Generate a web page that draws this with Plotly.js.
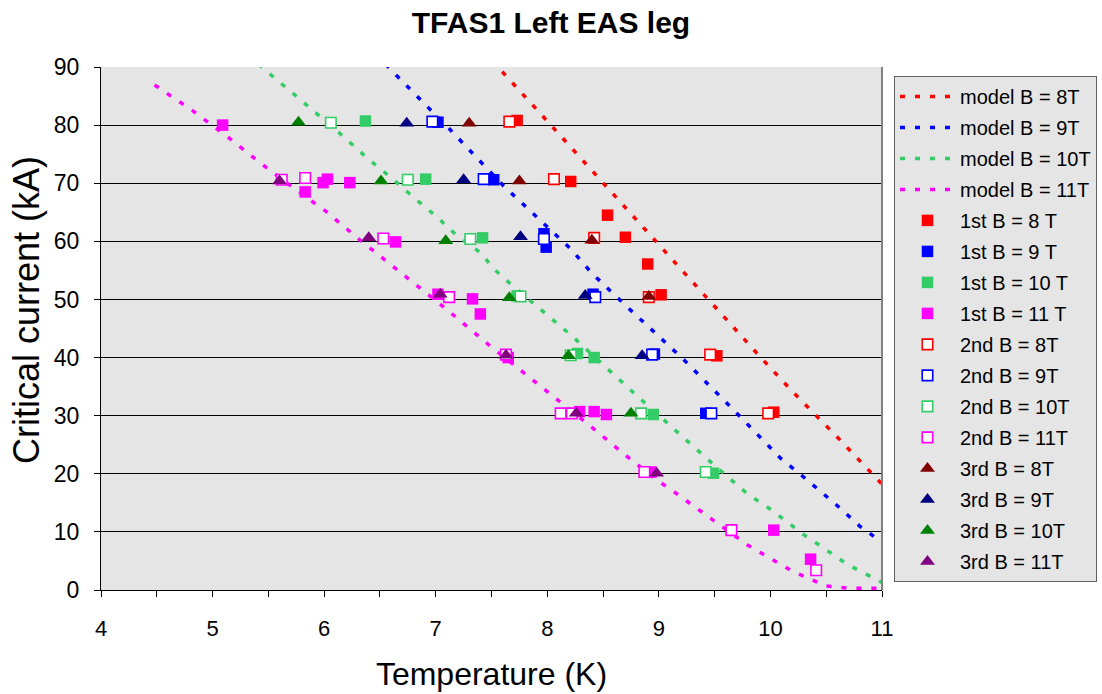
<!DOCTYPE html>
<html>
<head>
<meta charset="utf-8">
<script src="https://cdn.plot.ly/plotly-3.0.1.min.js"></script>
<style>html,body{margin:0;padding:0;background:#fff;}#chart{width:1102px;height:694px;}</style>
</head>
<body>
<div id="chart"></div>
<script>
// ---- model curves ----
const model8T_T = [7.5, 7.6, 7.9, 8.2, 8.5, 8.81, 9.1, 9.6, 9.9, 10.2, 10.6, 11.0];
const model8T_I = [91, 89.1, 82.8, 76.4, 70, 63.6, 57.2, 46.6, 40.3, 34.1, 26.3, 18.2];
const model9T_T = [6.55, 6.62, 7.12, 7.60, 8.21, 8.40, 8.70, 9.22, 9.71, 10.09, 10.30, 10.60, 10.80, 11.0];
const model9T_I = [90.5, 89.1, 79.4, 69.7, 58.7, 54.5, 49.0, 39.7, 30.2, 22.7, 19.4, 14.5, 11.0, 8.2];
const model10T_T = [5.41, 5.51, 5.81, 6.11, 6.40, 6.61, 6.80, 7.01, 7.20, 7.42, 7.50, 7.71, 8.21, 8.81, 9.49, 9.79, 10.0, 10.3, 10.41, 10.69, 11.0];
const model10T_I = [90.5, 88.9, 84.0, 79.1, 74.1, 70.8, 67.6, 64.2, 60.8, 57.8, 55.6, 52.0, 43.9, 33.3, 21.6, 16.6, 13.9, 9.5, 8.1, 4.4, 1.3];
const model11T_T = [4.48, 4.82, 5.12, 5.40, 5.71, 6.02, 6.31, 6.71, 7.11, 7.50, 8.10, 8.40, 8.70, 8.99, 9.10, 9.50, 9.79, 10.19, 10.50, 10.71, 11.0];
const model11T_I = [86.9, 82.5, 78.2, 73.9, 69.4, 65.1, 60.4, 54.3, 48.1, 41.8, 32.6, 28.0, 23.2, 18.8, 17.4, 11.8, 7.8, 3.3, 0.7, 0.3, 0.3];

// ---- 1st measurements ----
const first8T_T = [7.73, 8.21, 8.54, 8.70, 8.90, 9.02, 9.52, 10.03];
const first8T_I = [80.8, 70.3, 64.5, 60.7, 56.1, 50.8, 40.3, 30.6];
const first9T_T = [7.02, 7.52, 7.97, 7.99, 8.41, 8.96, 9.42];
const first9T_I = [80.5, 70.6, 61.3, 59.0, 50.9, 40.6, 30.4];
const first10T_T = [6.37, 6.91, 7.42, 7.73, 8.27, 8.42, 8.95, 9.49];
const first10T_I = [80.7, 70.7, 60.6, 50.6, 40.7, 40.0, 30.2, 20.1];
const first11T_T = [5.09, 5.83, 5.99, 6.03, 6.23, 6.64, 7.02, 7.33, 7.40, 7.65, 8.29, 8.42, 8.53, 8.93, 10.03, 10.36];
const first11T_I = [80.0, 68.5, 70.1, 70.7, 70.1, 59.9, 50.9, 50.1, 47.5, 40.0, 30.7, 30.7, 30.2, 20.3, 10.3, 5.3];

// ---- 2nd measurements ----
const second8T_T = [7.66, 8.06, 8.42, 8.91, 9.46, 9.98];
const second8T_I = [80.6, 70.7, 60.6, 50.4, 40.5, 30.4];
const second9T_T = [6.97, 7.43, 7.97, 8.43, 8.94, 9.47];
const second9T_I = [80.6, 70.7, 60.4, 50.4, 40.5, 30.4];
const second10T_T = [6.06, 6.75, 7.31, 7.76, 8.21, 8.84, 9.42];
const second10T_I = [80.4, 70.6, 60.4, 50.5, 40.4, 30.4, 20.3];
const second11T_T = [5.62, 5.83, 6.53, 7.12, 7.63, 8.12, 8.22, 8.87, 9.65, 10.41];
const second11T_I = [70.6, 70.9, 60.5, 50.4, 40.5, 30.4, 30.4, 20.3, 10.3, 3.4];

// ---- 3rd measurements ----
const third8T_T = [7.30, 7.75, 8.40, 8.91];
const third8T_I = [80.3, 70.4, 60.2, 50.5];
const third9T_T = [6.74, 7.25, 7.76, 8.34, 8.85];
const third9T_I = [80.3, 70.6, 60.8, 50.7, 40.3];
const third10T_T = [5.77, 6.51, 7.09, 7.66, 8.19, 8.75];
const third10T_I = [80.5, 70.4, 60.1, 50.3, 40.3, 30.4];
const third11T_T = [5.60, 6.40, 7.04, 7.63, 8.26, 8.98];
const third11T_I = [70.4, 60.6, 50.9, 40.4, 30.4, 20.1];

const xTickVals = [4, 5, 6, 7, 8, 9, 10, 11];
const yTickVals = [0, 10, 20, 30, 40, 50, 60, 70, 80, 90];

const FONT = "Liberation Sans, Arial, sans-serif";
const C = {r:'#ff0000', b:'#0000ff', g:'#33cc66', m:'#ff00ff', dr:'#800000', nv:'#000080', dg:'#008000', pu:'#800080'};

let gid = 0;
function model(x, y, col, name) {
  return {x, y, name, type:'scatter', mode:'lines', legendgroup:'g'+(gid++),
    line:{color:col, width:3.5, dash:'5px,10px'}, hoverinfo:'x+y'};
}
function filled(x, y, col, name) {
  return {x, y, name, type:'scatter', mode:'markers', legendgroup:'g'+(gid++),
    marker:{symbol:'square', size:11.5, color:col, line:{width:0}}};
}
function open(x, y, col, name) {
  return {x, y, name, type:'scatter', mode:'markers', legendgroup:'g'+(gid++),
    marker:{symbol:'square', size:10.5, color:'#ffffff', line:{width:1.6, color:col}}};
}
function tri(x, y, col, name) {
  return {x, y, name, type:'scatter', mode:'markers', legendgroup:'g'+(gid++),
    marker:{symbol:'triangle-up', size:13, color:col, line:{width:0}}};
}

const data = [
  model(model8T_T, model8T_I, C.r, 'model B = 8T'),
  model(model9T_T, model9T_I, C.b, 'model B = 9T'),
  model(model10T_T, model10T_I, C.g, 'model B = 10T'),
  model(model11T_T, model11T_I, C.m, 'model B = 11T'),
  filled(first8T_T, first8T_I, C.r, '1st B = 8 T'),
  filled(first9T_T, first9T_I, C.b, '1st B = 9 T'),
  filled(first10T_T, first10T_I, C.g, '1st B = 10 T'),
  filled(first11T_T, first11T_I, C.m, '1st B = 11 T'),
  open(second8T_T, second8T_I, C.r, '2nd B = 8T'),
  open(second9T_T, second9T_I, C.b, '2nd B = 9T'),
  open(second10T_T, second10T_I, C.g, '2nd B = 10T'),
  open(second11T_T, second11T_I, C.m, '2nd B = 11T'),
  tri(third8T_T, third8T_I, C.dr, '3rd B = 8T'),
  tri(third9T_T, third9T_I, C.nv, '3rd B = 9T'),
  tri(third10T_T, third10T_I, C.dg, '3rd B = 10T'),
  tri(third11T_T, third11T_I, C.pu, '3rd B = 11T')
];

const layout = {
  width:1102, height:694,
  margin:{l:101, r:220, t:67, b:104, autoexpand:false},
  paper_bgcolor:'#ffffff', plot_bgcolor:'#e5e5e5',
  font:{family:FONT, color:'#000'},
  title:{text:'<b>TFAS1 Left EAS leg</b>', font:{family:FONT, size:30, color:'#000'},
    x:0.5, xref:'container', y:0.968, yref:'container', yanchor:'middle'},
  xaxis:{range:[4, 11], tickvals:xTickVals, showgrid:false, zeroline:false,
    showline:true, linecolor:'#000', linewidth:1, ticks:'outside', ticklen:6, tickcolor:'#000',
    minor:{dtick:0.5, tick0:4, ticks:'outside', ticklen:6, tickcolor:'#000', showgrid:false},
    tickfont:{family:FONT, size:22, color:'#000'}, ticklabelstandoff:13,
    title:{text:'Temperature (K)', font:{family:FONT, size:32, color:'#000'}, standoff:22},
    automargin:false},
  yaxis:{range:[0, 90], tickvals:yTickVals, showgrid:true, gridcolor:'#000', gridwidth:1, zeroline:false,
    showline:true, linecolor:'#000', linewidth:1, ticks:'outside', ticklen:6, tickcolor:'#000',
    tickfont:{family:FONT, size:23, color:'#000'}, ticklabelstandoff:10,
    automargin:false},
  annotations:[{text:'Critical current (kA)', textangle:-90, xref:'paper', yref:'paper',
    x:(26-101)/781, y:(590-310)/523, xanchor:'center', yanchor:'middle', showarrow:false,
    font:{family:FONT, size:36, color:'#000'}}],
  shapes:[{type:'line', xref:'paper', yref:'paper', x0:1, x1:1, y0:0, y1:1, line:{color:'#808080', width:2}}],
  legend:{x:(894-101)/781, xanchor:'left', y:0.983, yanchor:'top', bgcolor:'#e5e5e5',
    bordercolor:'#606060', borderwidth:1, font:{family:FONT, size:20, color:'#000'},
    itemwidth:55, tracegroupgap:2, traceorder:'grouped'},
  showlegend:true
};

Plotly.newPlot('chart', data, layout, {displayModeBar:false, staticPlot:true});
</script>
</body>
</html>
